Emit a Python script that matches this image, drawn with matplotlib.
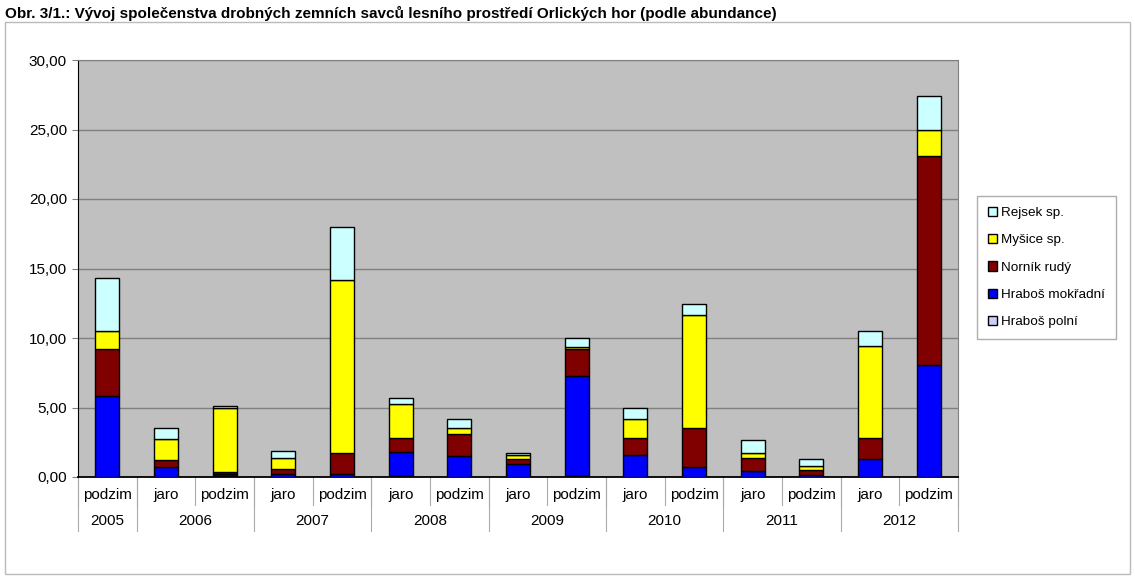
import matplotlib
matplotlib.use('Agg')
import matplotlib.pyplot as plt
from matplotlib.patches import Rectangle
from matplotlib.transforms import blended_transform_factory
import numpy as np

plt.rcParams['font.family'] = ['Liberation Sans', 'DejaVu Sans']

# data
seasons = ['podzim', 'jaro', 'podzim', 'jaro', 'podzim', 'jaro', 'podzim', 'jaro',
           'podzim', 'jaro', 'podzim', 'jaro', 'podzim', 'jaro', 'podzim']
years = ['2005', '2006', '2007', '2008', '2009', '2010', '2011', '2012']
year_spans = [1, 2, 2, 2, 2, 2, 2, 2]

hrabos_polni = [0.0, 0.0, 0.05, 0.0, 0.0, 0.08, 0.0, 0.0, 0.08, 0.0, 0.0, 0.0, 0.0, 0.0, 0.0]
hrabos_mokradni = [5.83, 0.69, 0.15, 0.19, 0.2, 1.74, 1.51, 0.93, 7.19, 1.56, 0.74, 0.46, 0.14, 1.27, 8.06]
fornik_rudy = [3.35, 0.53, 0.16, 0.36, 1.5, 0.96, 1.58, 0.34, 1.91, 1.22, 2.81, 0.93, 0.36, 1.51, 15.04]
mysice = [1.32, 1.49, 4.6, 0.82, 12.47, 2.47, 0.46, 0.31, 0.15, 1.39, 8.1, 0.31, 0.31, 6.64, 1.86]
rejsek = [3.84, 0.81, 0.17, 0.48, 3.83, 0.43, 0.6, 0.12, 0.64, 0.77, 0.82, 0.94, 0.46, 1.08, 2.44]

series = [
    ('Hraboš polní', hrabos_polni, '#CCCCFF'),
    ('Hraboš mokřadní', hrabos_mokradni, '#0000FF'),
    ('Norník rudý', fornik_rudy, '#800000'),
    ('Myšice sp.', mysice, '#FFFF00'),
    ('Rejsek sp.', rejsek, '#CCFFFF'),
]

W, H = 1135, 581
fig = plt.figure(figsize=(W / 100, H / 100), dpi=100)

# outer chart frame
fig.patches.append(Rectangle((5 / W, 1 - 574 / H), 1125 / W, 552 / H, transform=fig.transFigure,
                             facecolor='none', edgecolor='#BBBBBB', linewidth=1, zorder=-1))
fig.text(5 / W, 1 - 13 / H, 'Obr. 3/1.: Vývoj společenstva drobných zemních savců lesního prostředí Orlických hor (podle abundance)',
         fontsize=11, fontweight='bold', va='center', ha='left')

ax = fig.add_axes([78 / W, 1 - 477 / H, 880 / W, 417 / H])
ax.set_facecolor('#C0C0C0')

x = np.arange(len(seasons))
bottom = np.zeros(len(seasons))
handles = {}
for name, vals, col in series:
    b = ax.bar(x, vals, 0.41, bottom=bottom, color=col, edgecolor='black', linewidth=1, label=name, zorder=3)
    handles[name] = b
    bottom += np.array(vals)

ax.set_xlim(-0.5, len(seasons) - 0.5)
ax.set_ylim(0, 30)
ax.set_yticks(np.arange(0, 31, 5))
ax.set_yticklabels([f'{v:.2f}'.replace('.', ',') for v in np.arange(0, 31, 5)], fontsize=11)
ax.yaxis.grid(True, color='#808080', linewidth=1)
ax.set_axisbelow(True)
ax.tick_params(axis='y', length=4, pad=4, color='#808080')
ax.set_xticks([])
for s in ['top', 'right']:
    ax.spines[s].set_color('#808080')
ax.spines['left'].set_color('black')
ax.spines['bottom'].set_color('black')
ax.spines['bottom'].set_linewidth(1.3)

# two-level category axis
tr = blended_transform_factory(ax.transData, ax.transAxes)
row1 = -(18 / 417)
row2 = -(44 / 417)
for i, s in enumerate(seasons):
    ax.text(i, row1, s, transform=tr, ha='center', va='center', fontsize=11)
for k in range(len(seasons) + 1):
    ax.plot([k - 0.5, k - 0.5], [0, -(28 / 417)], transform=tr, color='#AAAAAA', lw=0.8, clip_on=False)
start = 0
for yr, span in zip(years, year_spans):
    ax.text(start + (span - 1) / 2, row2, yr, transform=tr, ha='center', va='center', fontsize=11)
    ax.plot([start - 0.5, start - 0.5], [0, -(54 / 417)], transform=tr, color='#AAAAAA', lw=0.8, clip_on=False)
    start += span
ax.plot([start - 0.5, start - 0.5], [0, -(54 / 417)], transform=tr, color='#AAAAAA', lw=0.8, clip_on=False)

order = ['Rejsek sp.', 'Myšice sp.', 'Norník rudý', 'Hraboš mokřadní', 'Hraboš polní']
leg = fig.legend([handles[n] for n in order], order, loc='upper left',
                 bbox_to_anchor=(977 / W, 1 - 196 / H), fontsize=9.7, frameon=True, fancybox=False,
                 handlelength=0.7, handleheight=0.7, handletextpad=0.3, labelspacing=1.1,
                 borderpad=0.8, borderaxespad=0)
leg.get_frame().set_edgecolor('#999999')
leg.get_frame().set_linewidth(1)

fig.savefig('out.png', dpi=100)
